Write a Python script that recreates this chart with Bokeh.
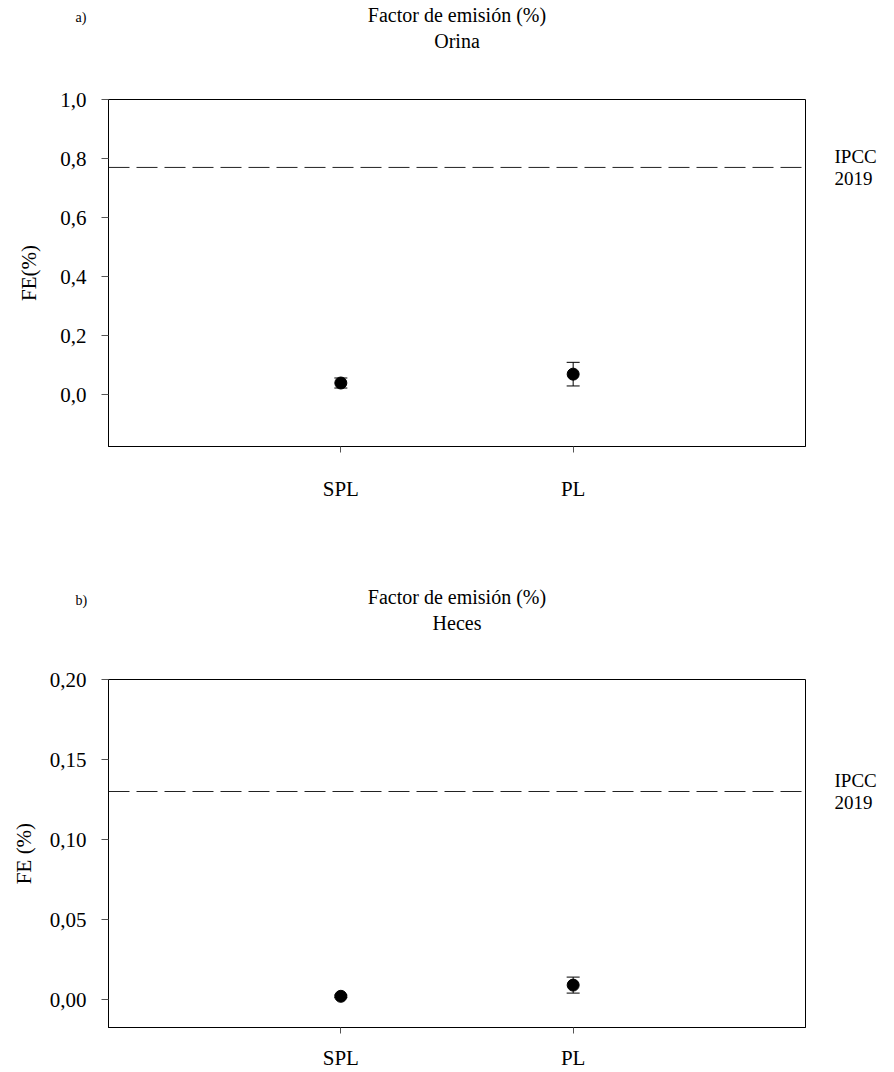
from bokeh.plotting import figure
from bokeh.layouts import column
from bokeh.models import (ColumnDataSource, Range1d, FixedTicker, CustomJSTickFormatter,
                          Span, Whisker, TeeHead, Title, LinearAxis)
from bokeh.embed import file_html
from bokeh.resources import INLINE

categories = ["SPL", "PL"]
orina_mean = [0.04, 0.07]
orina_err = [0.017, 0.04]
heces_mean = [0.002, 0.009]
heces_err = [0.0008, 0.005]
ipcc_orina = 0.77
ipcc_heces = 0.13
ipcc_label = "IPCC\n2019"
orina_ticks = [0.0, 0.2, 0.4, 0.6, 0.8, 1.0]
heces_ticks = [0.0, 0.05, 0.10, 0.15, 0.20]

FONT = "Liberation Serif"


def panel(tag, subtitle, ylabel, means, errs, ipcc, ticks, ymin, digits,
          height, border_top, frame_h, border_bottom, label_standoff, x_standoff,
          spacer, tag_standoff):
    xs = [i + 1 for i in range(len(categories))]
    src = ColumnDataSource(dict(
        x=xs, y=means,
        upper=[m + e for m, e in zip(means, errs)],
        lower=[m - e for m, e in zip(means, errs)],
    ))
    p = figure(width=894, height=height, frame_width=697, frame_height=frame_h,
               min_border_left=108, min_border_right=89,
               min_border_top=border_top, min_border_bottom=border_bottom,
               x_range=Range1d(0, 3), y_range=Range1d(ymin, ticks[-1]),
               output_backend="svg", toolbar_location=None)
    p.xgrid.visible = False
    p.ygrid.visible = False
    p.outline_line_color = "black"
    p.outline_line_alpha = 1
    p.outline_line_width = 1
    p.background_fill_color = "white"
    p.border_fill_color = "white"

    p.xaxis.ticker = FixedTicker(ticks=xs)
    p.xaxis.major_label_overrides = {x: c for x, c in zip(xs, categories)}
    p.yaxis.ticker = FixedTicker(ticks=ticks)
    p.yaxis.formatter = CustomJSTickFormatter(
        code="return tick.toFixed(%d).replace('.', ',');" % digits)
    for ax in (p.xaxis, p.yaxis):
        ax.minor_tick_line_color = None
        ax.major_tick_in = 0
        ax.major_tick_out = 7
        ax.major_tick_line_color = "#555555"
        ax.axis_line_color = "black"
        ax.major_label_text_font = FONT
        ax.major_label_text_font_size = "21px"
        ax.major_label_text_color = "black"
    p.xaxis.major_tick_out = 6
    p.xaxis.major_label_standoff = x_standoff
    p.yaxis.major_label_standoff = 15
    p.yaxis.axis_label = ylabel
    p.yaxis.axis_label_text_font = FONT
    p.yaxis.axis_label_text_font_size = "21px"
    p.yaxis.axis_label_text_font_style = "normal"
    p.yaxis.axis_label_text_color = "black"
    p.yaxis.axis_label_standoff = label_standoff

    # IPCC reference value, labelled on a right-hand axis
    raxis = LinearAxis(ticker=FixedTicker(ticks=[ipcc]),
                       formatter=CustomJSTickFormatter(
                           code="return %r;" % ipcc_label),
                       axis_line_color=None, major_tick_line_color=None,
                       minor_tick_line_color=None, major_tick_in=0, major_tick_out=0,
                       major_label_standoff=29, major_label_text_font=FONT,
                       major_label_text_font_size="19px",
                       major_label_text_line_height=1.05,
                       major_label_text_color="black",
                       major_label_text_align="left")
    p.add_layout(raxis, "right")
    p.add_layout(Span(location=ipcc, dimension="width", line_color="#222222",
                      line_width=1, line_dash="21 7"))

    p.add_layout(Whisker(source=src, base="x", upper="upper", lower="lower",
                         dimension="height", line_color="black", line_width=1,
                         upper_head=TeeHead(size=13, line_color="black", line_width=1),
                         lower_head=TeeHead(size=13, line_color="black", line_width=1)))
    p.scatter("x", "y", source=src, size=12, marker="circle",
              fill_color="black", line_color="black")

    # titles: first added sits closest to the frame; the first one is a blank spacer
    p.add_layout(Title(text=" ", align="center", text_font=FONT,
                       text_font_size="20px", standoff=spacer), "above")
    p.add_layout(Title(text=subtitle, align="center", text_font=FONT,
                       text_font_size="20px", text_font_style="normal",
                       text_color="black", standoff=0), "above")
    p.add_layout(Title(text="Factor de emisión (%)", align="center", text_font=FONT,
                       text_font_size="20px", text_font_style="normal",
                       text_color="black", standoff=3), "above")
    p.add_layout(Title(text=tag, align="left", offset=-33, text_font=FONT,
                       text_font_size="14px", text_font_style="normal",
                       text_color="black", standoff=tag_standoff), "above")
    return p


pa = panel("a)", "Orina", "FE(%)", orina_mean, orina_err, ipcc_orina,
           orina_ticks, -0.175, 1, 536, 99, 347, 90, 16, 24, 24, -48)
pb = panel("b)", "Heces", "FE (%)", heces_mean, heces_err, ipcc_heces,
           heces_ticks, -0.0175, 2, 536, 143, 348, 45, 11, 12, 22, -50)

layout = column(pa, pb, spacing=0)
open("out.html", "w").write(file_html(layout, INLINE))
